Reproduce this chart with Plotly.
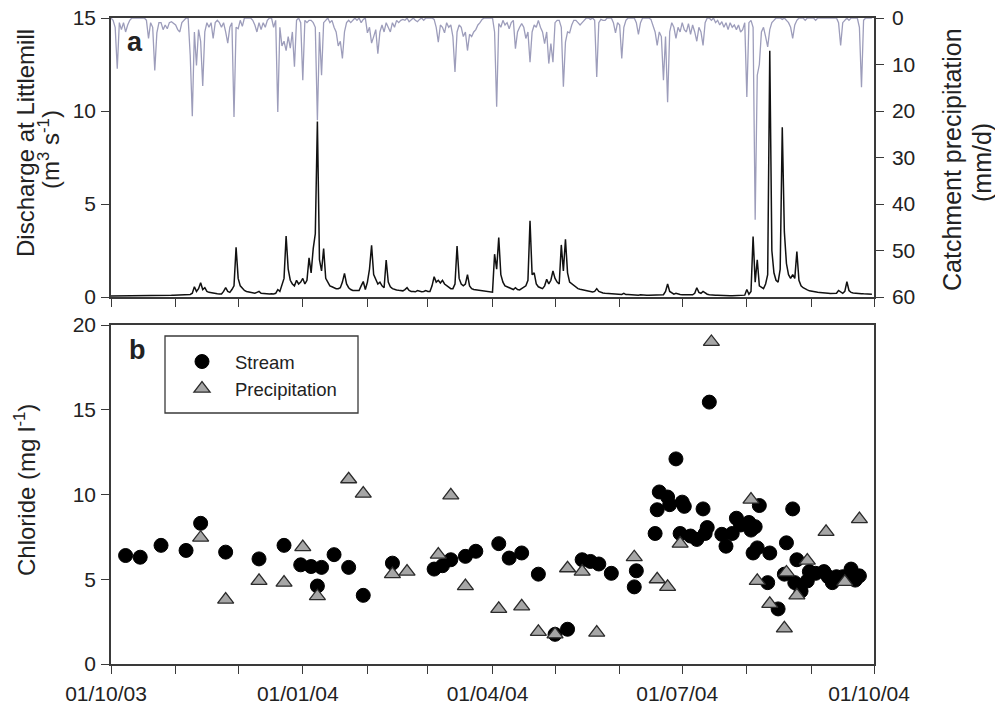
import pandas as pd
import plotly.graph_objects as go

# ---- daily record, 1 Oct 2003 - 30 Sep 2004 ----
start_date = "2003-10-01"
end_date = "2004-09-30"

# discharge at Littlemill (m3/s), one list per month
q_oct = [0.06,0.06,0.05,0.05,0.05,0.05,0.05,0.05,0.05,0.05,0.05,0.05,0.05,0.05,0.05,0.06,0.06,0.06,0.06,0.06,0.07,0.07,0.08,0.08,0.08,0.08,0.08,0.09,0.09,0.09,0.10]
q_nov = [0.10,0.10,0.11,0.12,0.12,0.12,0.13,0.14,0.20,0.55,0.30,0.45,0.77,0.40,0.50,0.30,0.25,0.22,0.20,0.18,0.17,0.16,0.16,0.30,0.50,0.30,0.25,0.40,0.60,2.67]
q_dec = [1.00,0.60,0.45,0.35,0.30,0.28,0.25,0.22,0.20,0.25,0.30,0.20,0.18,0.20,0.17,0.16,0.18,0.16,0.20,0.40,0.30,0.60,1.00,3.28,1.50,0.90,0.70,0.60,0.90,0.70,0.80]
q_jan = [1.00,0.70,0.90,2.10,1.30,2.60,3.40,9.43,2.00,1.40,2.60,1.00,0.80,0.60,0.55,0.50,0.45,0.45,0.50,0.80,1.27,0.70,0.50,0.40,0.35,0.35,0.33,0.35,0.60,0.83,0.40]
q_feb = [0.80,1.50,2.78,1.20,0.90,0.70,0.80,0.60,0.50,1.99,0.80,0.55,0.45,0.40,0.38,0.36,0.35,0.33,0.40,0.50,0.35,0.30,0.30,0.28,0.35,0.30,0.28,0.30,0.35]
q_mar = [0.30,0.30,0.60,1.09,0.80,0.90,0.75,0.90,0.70,0.60,0.50,0.45,0.45,0.70,2.74,1.00,0.70,0.60,0.70,1.20,0.60,0.45,0.40,0.38,0.36,0.35,0.33,0.30,0.28,0.27,0.26]
q_apr = [0.26,2.30,1.50,3.20,1.20,0.80,0.60,0.55,0.50,0.45,0.40,0.50,0.40,0.38,0.45,0.50,0.60,0.90,4.10,1.20,1.30,0.70,0.55,0.50,0.45,0.60,0.95,0.70,0.90,1.40]
q_may = [1.00,0.80,0.70,2.80,1.40,3.10,1.30,0.80,0.70,0.60,0.50,0.45,0.42,0.40,0.35,0.33,0.30,0.28,0.27,0.30,0.45,0.30,0.25,0.22,0.20,0.19,0.18,0.17,0.16,0.15,0.15]
q_jun = [0.14,0.14,0.20,0.13,0.13,0.12,0.12,0.11,0.11,0.10,0.12,0.10,0.10,0.10,0.10,0.10,0.09,0.10,0.09,0.09,0.09,0.12,0.30,0.70,0.30,0.20,0.15,0.20,0.15,0.13]
q_jul = [0.12,0.12,0.12,0.15,0.13,0.12,0.20,0.50,0.25,0.20,0.30,0.20,0.15,0.12,0.10,0.10,0.09,0.09,0.08,0.08,0.08,0.08,0.07,0.07,0.07,0.07,0.06,0.06,0.06,0.06,0.10]
q_aug = [0.40,0.15,0.30,3.25,0.80,2.00,0.60,0.50,0.45,0.70,1.20,13.24,2.50,1.30,0.90,0.80,1.50,9.12,3.50,1.80,1.20,1.00,1.20,1.00,2.44,0.90,0.60,0.50,0.42,0.38,0.33]
q_sep = [0.30,0.28,0.26,0.25,0.24,0.22,0.21,0.20,0.20,0.19,0.18,0.18,0.20,0.35,0.25,0.20,0.30,0.82,0.35,0.25,0.22,0.20,0.19,0.18,0.18,0.17,0.17,0.16,0.16,0.15]

# catchment precipitation (mm/d), one list per month
p_oct = [0,0.5,2,10.9,1,2.5,1,3,1.5,0.5,0,0,0,0,0,0,0,0.5,4.4,1,2,11.3,3.2,1,1,2.5,1.5,2.3,1,0.8,1.2]
p_nov = [1.5,2.5,3,1,0.5,0,0,8,21.1,3,10.2,2.5,5,14.6,3,1,2,1,4.4,1,0.5,1,2,1,3,5.4,2,1,21.3,2]
p_dec = [2.3,0.5,1.8,0,0,0,0,0.5,1.5,3,1,2.5,1,2,0.5,0,0,2,0.5,20.2,2,6,5,7,4,6.5,3,10.5,0.5,0,1]
p_jan = [13.4,0.5,1,0.5,0.5,1,2,22,3,12.3,1,0.5,0,1,0.5,2,3,6,5,8.7,3,1,0.5,1,0.5,0,0.5,0,1,0.3,0]
p_feb = [3.2,2,5.4,4,2.5,7.7,3,1.5,3,1,2,3,1,2,0.5,1,0.5,0.3,0.5,0,0.8,0.3,0,0.5,0.8,0.3,0,0.5,0]
p_mar = [0,0,0,0.3,2,5.2,1.5,2,3.2,1,2,1.5,4,11.6,3,1.5,2,4,3,7,3.5,4,3,2.5,1.5,1,0.3,0,0,0,0]
p_apr = [0,3,19.1,1.2,2,0.5,1.5,1,2.3,1,0.5,6.6,3,2,1.2,2,4.4,3,9.5,3,1.5,2,0.5,2,3,5.5,3,9.8,5.5,9.5]
p_may = [1,0.5,0.5,2,14.8,5.2,3,3.2,1.5,0.5,0.5,1,1.5,1,0.5,0,0,0.3,0,0.5,12.7,1,0.3,0.5,0.5,0,0,0,1,3.2,1]
p_jun = [1.5,8.7,2,0.5,0,0,0,0,1,3.5,1,0,0,0,0,0.3,1.5,3,5.9,3,4,13.4,4,18.1,3,1,2,4.4,2,3]
p_jul = [1,2.5,3,1.2,3.5,1.5,3,5,2,3,5.9,1,0,0,0.5,0,1,0.5,1.5,0.8,2,1,2.5,1,2,1.5,2.5,1.5,3,2.5,1]
p_aug = [17,1,0.5,2,43.4,12.3,10,3,2,4,6.2,2.5,1,0.5,0,0,0,0.3,0,0.5,1,2,4.4,1.5,0.5,0,0,0,0.5,0,0]
p_sep = [0,0,0.5,0,0,0,0,0,0,0,0,0,0,1,5.9,1,0.5,0,0.5,0,0,0,0,2,14.9,0.5,0,0,0,0]

# ---- chloride samples (mg/l) ----
stream_dates = [
    "2003-10-08","2003-10-15","2003-10-25","2003-11-06","2003-11-13","2003-11-25","2003-12-11","2003-12-23","2003-12-31","2004-01-05",
    "2004-01-10","2004-01-08","2004-01-16","2004-01-23","2004-01-30","2004-02-13","2004-03-04","2004-03-08","2004-03-12","2004-03-19",
    "2004-03-24","2004-04-04","2004-04-09","2004-04-15","2004-04-23","2004-05-01","2004-05-07","2004-05-14","2004-05-18","2004-05-22",
    "2004-05-28","2004-06-09","2004-06-08","2004-06-18","2004-06-19","2004-06-20","2004-06-24","2004-06-25","2004-06-28","2004-07-01",
    "2004-07-02","2004-06-30","2004-07-05","2004-07-08","2004-07-11","2004-07-12","2004-07-13","2004-07-14","2004-07-20","2004-07-22",
    "2004-07-25","2004-07-27","2004-07-29","2004-08-02","2004-08-03","2004-08-05","2004-08-07","2004-08-04","2004-08-06","2004-08-11",
    "2004-08-12","2004-08-16","2004-08-20","2004-08-23","2004-08-25","2004-08-19","2004-08-24","2004-08-27","2004-08-30","2004-08-31",
    "2004-09-03","2004-09-07","2004-09-09","2004-09-11","2004-09-13","2004-09-16","2004-09-20","2004-09-22","2004-09-24"]
stream_cl = [
    6.4,6.3,7.0,6.7,8.3,6.6,6.2,7.0,5.85,5.75,
    5.7,4.6,6.45,5.7,4.05,5.95,5.6,5.8,6.15,6.35,
    6.65,7.1,6.25,6.55,5.3,1.75,2.05,6.15,6.05,5.9,
    5.35,5.5,4.55,7.7,9.1,10.15,9.85,9.4,12.1,9.55,
    9.3,7.7,7.55,7.35,9.15,7.7,8.05,15.45,7.65,6.95,
    7.7,8.6,8.2,8.35,7.9,8.1,9.35,6.55,6.85,4.8,
    6.55,3.25,7.15,9.15,6.15,5.3,4.8,4.3,4.9,5.45,
    5.35,5.45,5.15,4.8,5.15,5.15,5.6,4.95,5.2]

precip_dates = [
    "2003-11-13","2003-11-25","2003-12-11","2003-12-23","2004-01-01","2004-01-08","2004-01-23","2004-01-30","2004-02-13","2004-02-20",
    "2004-03-06","2004-03-12","2004-03-19","2004-04-04","2004-04-15","2004-04-23","2004-05-01","2004-05-07","2004-05-14","2004-05-21",
    "2004-06-08","2004-06-19","2004-06-24","2004-06-30","2004-07-15","2004-08-03","2004-08-06","2004-08-12","2004-08-19","2004-08-20",
    "2004-08-25","2004-08-30","2004-09-08","2004-09-17","2004-09-24"]
precip_cl = [
    7.45,3.8,4.9,4.8,6.9,4.0,10.9,10.05,5.3,5.45,
    6.45,9.95,4.6,3.25,3.4,1.9,1.75,5.65,5.45,1.85,
    6.3,5.0,4.55,7.1,19.0,9.7,4.9,3.55,2.1,5.4,
    4.05,6.1,7.8,4.85,8.55]

# ---- assemble daily series ----
days = pd.date_range(start_date, end_date, freq="D")
discharge = (q_oct + q_nov + q_dec + q_jan + q_feb + q_mar +
             q_apr + q_may + q_jun + q_jul + q_aug + q_sep)
rainfall = (p_oct + p_nov + p_dec + p_jan + p_feb + p_mar +
            p_apr + p_may + p_jun + p_jul + p_aug + p_sep)
assert len(discharge) == len(days) == len(rainfall)

FONT = "Liberation Sans, Arial, Helvetica, sans-serif"
INK = "#222222"
AXC = "#3a3a3a"

fig = go.Figure()

# panel a: precipitation hanging from the top (reversed right axis)
fig.add_trace(go.Scatter(x=days, y=rainfall, mode="lines",
                         line=dict(color="#9d9dbb", width=1.3),
                         xaxis="x", yaxis="y", showlegend=False))
# panel a: discharge
fig.add_trace(go.Scatter(x=days, y=discharge, mode="lines",
                         line=dict(color="#111111", width=1.5),
                         xaxis="x", yaxis="y2", showlegend=False))

# panel b: chloride
fig.add_trace(go.Scatter(x=stream_dates, y=stream_cl, mode="markers", name="Stream",
                         marker=dict(symbol="circle", size=14, color="#000000",
                                     line=dict(color="#000000", width=1)),
                         xaxis="x2", yaxis="y3"))
fig.add_trace(go.Scatter(x=precip_dates, y=precip_cl, mode="markers", name="Precipitation",
                         marker=dict(symbol="triangle-up", size=14, color="#a6a6a6",
                                     line=dict(color="#2a2a2a", width=1.3)),
                         xaxis="x2", yaxis="y3"))

# plot-area geometry (pixels)
L, R, T, B = 111, 121, 18, 44
W, H = 995, 708
PW, PH = W - L - R, H - T - B


def px(xp):
    return (xp - L) / PW


def py(yp):
    return (H - B - yp) / PH


top_dom = [py(297), 1.0]
bot_dom = [0.0, py(325)]

TICKS = dict(ticks="outside", ticklen=8, tickwidth=1.3, tickcolor=AXC,
             showline=True, linecolor=AXC, linewidth=1.5,
             showgrid=False, zeroline=False, automargin=False,
             tickfont=dict(family=FONT, size=21, color=INK))

xcommon = dict(TICKS, type="date", range=["2003-10-01", "2004-10-01"],
               dtick="M3", tick0="2003-10-01", tickformat="%d/%m/%y",
               minor=dict(dtick="M1", tick0="2003-10-01", ticks="outside",
                          ticklen=8, tickwidth=1.3, tickcolor=AXC),
               mirror=True)

fig.update_layout(
    width=W, height=H, autosize=False,
    margin=dict(l=L, r=R, t=T, b=B, pad=0, autoexpand=False),
    paper_bgcolor="white", plot_bgcolor="white",
    font=dict(family=FONT, color=INK),
    xaxis=dict(xcommon, anchor="y", domain=[0, 1], showticklabels=False),
    yaxis=dict(TICKS, domain=top_dom, anchor="x", side="right", range=[60, 0],
               dtick=10, ticklabelstandoff=4),
    yaxis2=dict(TICKS, overlaying="y", anchor="x", side="left", range=[0, 15],
                dtick=5, ticklabelstandoff=1),
    xaxis2=dict(xcommon, anchor="y3", domain=[0, 1], ticklabelshift=-5,
                ticklabelstandoff=2),
    yaxis3=dict(TICKS, domain=bot_dom, anchor="x2", range=[0, 20], dtick=5,
                mirror=True, ticklabelstandoff=1),
    legend=dict(x=px(169), y=py(343), xanchor="left", yanchor="top",
                bgcolor="rgba(0,0,0,0)", borderwidth=0, itemwidth=56,
                tracegroupgap=0,
                font=dict(family=FONT, size=18.5, color=INK)),
    showlegend=True,
)

# legend frame
fig.add_shape(type="rect", xref="paper", yref="paper",
              x0=px(165), x1=px(358), y0=py(413), y1=py(336),
              line=dict(color=AXC, width=1.3), fillcolor="rgba(0,0,0,0)")

ann = [
    dict(text="<b>a</b>", x=px(135), y=py(42), size=27, angle=0),
    dict(text="<b>b</b>", x=px(137), y=py(350), size=27, angle=0),
    dict(text="Discharge at Littlemill", x=px(25), y=py(143), size=24, angle=-90),
    dict(text="(m<sup>3</sup> s<sup>-1</sup>)", x=px(49), y=py(150), size=24, angle=-90),
    dict(text="Catchment precipitation", x=px(952), y=py(160), size=25, angle=-90),
    dict(text="(mm/d)", x=px(982), y=py(162), size=25, angle=-90),
    dict(text="Chloride (mg l<sup>-1</sup>)", x=px(25), y=py(490), size=24, angle=-90),
]
for a in ann:
    fig.add_annotation(text=a["text"], x=a["x"], y=a["y"], xref="paper", yref="paper",
                       xanchor="center", yanchor="middle", showarrow=False,
                       textangle=a["angle"],
                       font=dict(family=FONT, size=a["size"], color=INK))

fig.write_html("out.html")
